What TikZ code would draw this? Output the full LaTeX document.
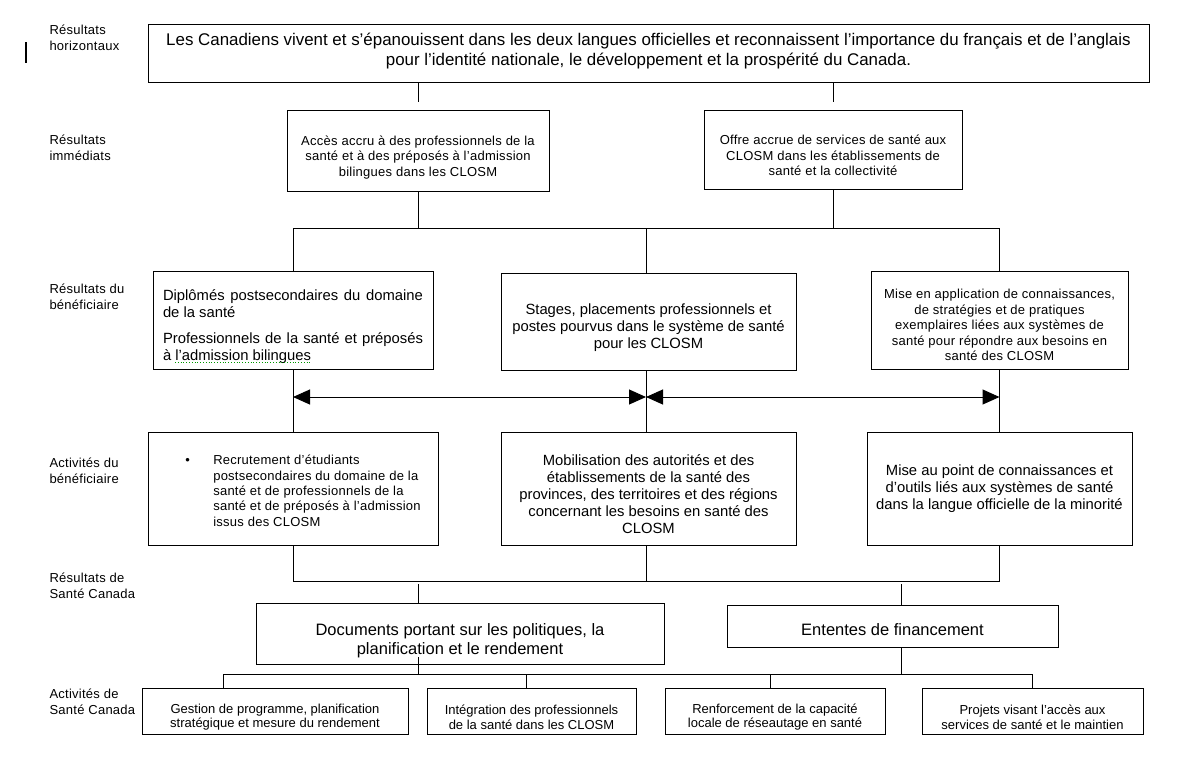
\documentclass[tikz,border=0pt]{standalone}
\usepackage{fontspec}
\setmainfont{Liberation Sans}
\newfontfamily\spacedsans[LetterSpace=2]{Liberation Sans}
\usetikzlibrary{arrows.meta}
\hyphenpenalty=10000
\exhyphenpenalty=10000

\begin{document}
\begin{tikzpicture}[
        x=1pt, y=-1pt,
        line width=1pt,
        cell/.style={draw, inner sep=0pt},
        rowname/.style={anchor=base west, align=left, inner sep=0pt,
            font=\spacedsans\fontsize{13}{15.5}\selectfont},
        smalltext/.style={align=center, inner sep=0pt, font=\spacedsans\fontsize{13}{15.4}\selectfont},
        bottomtext/.style={align=center, inner sep=0pt, font=\fontsize{13}{14.6}\selectfont},
        midtext/.style={align=center, inner sep=0pt, font=\fontsize{14.8}{17}\selectfont},
        bigtext/.style={align=center, inner sep=0pt, font=\fontsize{16.5}{19.5}\selectfont},
        twohead/.style={{Triangle[length=17pt,width=15pt]}-{Triangle[length=17pt,width=15pt]}}
    ]
        \path[fill=white, use as bounding box] (0,0) rectangle (1180,756);

        \foreach \name/\y/\txt in {lab-horiz/50/Résultats\\horizontaux,
                lab-imm/160/Résultats\\immédiats,
                lab-ben/309/Résultats du\\bénéficiaire,
                lab-act/483/Activités du\\bénéficiaire,
                lab-hc/598/Résultats de\\Santé Canada,
                lab-hcact/714/Activités de\\Santé Canada} {
            \node[rowname] (\name) at (49,\y) {\txt};
        }

        \coordinate (bar-top) at (26,42);
        \coordinate (bar-bottom) at (26,63);
        \draw[line width=2pt] (bar-top) -- (bar-bottom);

        \node[cell, minimum width=1001pt, minimum height=58pt] (top) at (648.5,53) {};
        \node[align=center, inner sep=0pt, font=\fontsize{16.9}{19.5}\selectfont] (top-text) at ([yshift=2pt]top)
            {Les Canadiens vivent et s’épanouissent dans les deux langues officielles et reconnaissent l’importance du français et de l’anglais\\
             pour l’identité nationale, le développement et la prospérité du Canada.};

        \node[cell, minimum width=262pt, minimum height=81pt] (imm1) at (418,150.5) {};
        \node[smalltext] (imm1-text) at ([yshift=-7pt]imm1)
            {Accès accru à des professionnels de la\\santé et à des préposés à l’admission\\bilingues dans les CLOSM};
        \node[cell, minimum width=258pt, minimum height=79pt] (imm2) at (833,149.5) {};
        \node[smalltext] (imm2-text) at ([yshift=-6pt]imm2)
            {Offre accrue de services de santé aux\\CLOSM dans les établissements de\\santé et la collectivité};

        \node[cell, minimum width=280pt, minimum height=98pt] (ben1) at (293,320) {};
        \node[midtext, text width=260pt, align=justify] (ben1-text) at ([yshift=-7pt]ben1)
            {\setlength\parindent{0pt}Diplômés postsecondaires du domaine de la santé\par\vspace{9pt}
             Professionnels de la santé et préposés à l’admission bilingues};
        \node[cell, minimum width=295pt, minimum height=97pt] (ben2) at (648.5,321.5) {};
        \node[midtext] (ben2-text) at ([yshift=-6pt]ben2)
            {Stages, placements professionnels et\\postes pourvus dans le système de santé\\pour les CLOSM};
        \node[cell, minimum width=257pt, minimum height=98pt] (ben3) at (999.5,320) {};
        \node[smalltext] (ben3-text) at ([yshift=-5pt]ben3)
            {Mise en application de connaissances,\\de stratégies et de pratiques\\exemplaires liées aux systèmes de\\santé pour répondre aux besoins en\\santé des CLOSM};

        \node[cell, minimum width=290pt, minimum height=113pt] (act1) at (293,488.5) {};
        \node[smalltext] (act1-text) at ([yshift=-4pt]act1)
            {\begin{tabular}{@{\hspace{20pt}}p{28pt}@{}l@{}}
                \textbullet & Recrutement d’étudiants\\
                 & postsecondaires du domaine de la\\
                 & santé et de professionnels de la\\
                 & santé et de préposés à l’admission\\
                 & issus des CLOSM
             \end{tabular}};
        \node[cell, minimum width=295pt, minimum height=113pt] (act2) at (648.5,488.5) {};
        \node[midtext] (act2-text) at ([yshift=-6pt]act2)
            {Mobilisation des autorités et des\\établissements de la santé des\\provinces, des territoires et des régions\\concernant les besoins en santé des\\CLOSM};
        \node[cell, minimum width=265pt, minimum height=113pt] (act3) at (999.5,488.5) {};
        \node[midtext] (act3-text) at (act3)
            {Mise au point de connaissances et\\d’outils liés aux systèmes de santé\\dans la langue officielle de la minorité};

        \node[cell, minimum width=408pt, minimum height=61pt] (docs) at (460,633.5) {};
        \node[bigtext] (docs-text) at ([yshift=-7pt]docs)
            {Documents portant sur les politiques, la\\planification et le rendement};
        \node[cell, minimum width=331pt, minimum height=42pt] (fin) at (892.5,626) {};
        \node[bigtext] (fin-text) at ([yshift=-4pt]fin) {Ententes de financement};

        \node[cell, minimum width=266pt, minimum height=46pt] (g1) at (275,711) {};
        \node[bottomtext] (g1-text) at ([yshift=-6pt]g1)
            {Gestion de programme, planification\\stratégique et mesure du rendement};
        \node[cell, minimum width=209pt, minimum height=46pt] (g2) at (531.5,711) {};
        \node[bottomtext] (g2-text) at ([yshift=-6pt]g2)
            {Intégration des professionnels\\de la santé dans les CLOSM};
        \node[cell, minimum width=220pt, minimum height=46pt] (g3) at (775,711) {};
        \node[bottomtext] (g3-text) at ([yshift=-6pt]g3)
            {Renforcement de la capacité\\locale de réseautage en santé};
        \node[cell, minimum width=221pt, minimum height=46pt] (g4) at (1032.5,711) {};
        \node[bottomtext] (g4-text) at ([yshift=-6pt]g4)
            {Projets visant l’accès aux\\services de santé et le maintien};

        \coordinate (spell-w) at (175,362);
        \coordinate (spell-e) at (310,362);
        \draw[green!60!black, line width=0.8pt, dotted] (spell-w) -- (spell-e);

        \coordinate (busA-w) at (293,228);
        \coordinate (busA-m) at (646,228);
        \coordinate (busA-e) at (999.5,228);
        \coordinate (arrow-w) at (293,397);
        \coordinate (arrow-m) at (646,397);
        \coordinate (arrow-e) at (999.5,397);
        \coordinate (busB-w) at (293,581);
        \coordinate (busB-m) at (646,581);
        \coordinate (busB-e) at (999.5,581);
        \coordinate (docs-top) at (418,584);
        \coordinate (fin-top) at (901,584);
        \coordinate (docs-stem) at (418,657);
        \coordinate (busC-w) at (223,674);
        \coordinate (busC-e) at (1032,674);

        \draw ([yshift=8pt]imm1.north) -- (imm1.north |- top.south);
        \draw ([yshift=8pt]imm2.north) -- (imm2.north |- top.south);
        \draw (imm1.south) -- (imm1.south |- busA-w);
        \draw (imm2.south) -- (imm2.south |- busA-w);
        \draw (busA-w) -- (busA-e);
        \draw (busA-w) -- (ben1.north);
        \draw (busA-m) -- (busA-m |- ben2.north);
        \draw (busA-e) -- (ben3.north);

        \draw (ben1.south) -- (act1.north);
        \draw (ben2.south -| busA-m) -- (act2.north -| busA-m);
        \draw (ben3.south) -- (act3.north);
        \draw[twohead] (arrow-w) -- (arrow-m);
        \draw[twohead] (arrow-m) -- (arrow-e);

        \draw (act1.south) -- (busB-w);
        \draw (act2.south -| busB-m) -- (busB-m);
        \draw (act3.south) -- (busB-e);
        \draw (busB-w) -- (busB-e);
        \draw (docs-top) -- (docs-top |- docs.north);
        \draw (fin-top) -- (fin-top |- fin.north);

        \draw (docs-stem) -- (docs-stem |- busC-w);
        \draw (fin.south -| fin-top) -- (fin-top |- busC-w);
        \draw (busC-w) -- (busC-e);
        \foreach \g/\x in {g1/223, g2/526, g3/770, g4/1032} {
            \coordinate (\g-top) at (\x,674);
            \draw (\g-top) -- (\g-top |- \g.north);
        }
    \end{tikzpicture}
\end{document}
